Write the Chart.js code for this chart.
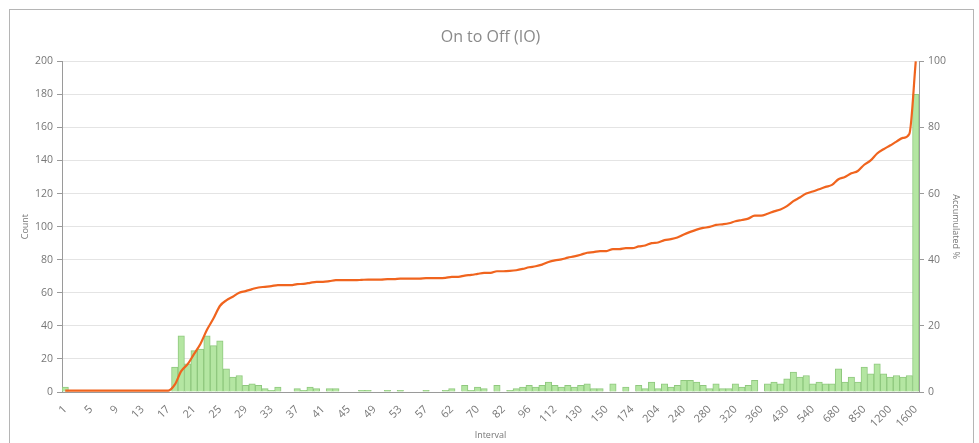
<!DOCTYPE html>
<html>
<head>
<meta charset="utf-8">
<script src="https://cdn.jsdelivr.net/npm/chart.js@4"></script>
<style>
  html, body { margin: 0; padding: 0; background: #fff; }
  #frame { position: absolute; left: 9px; top: 9px; width: 963px; height: 450px; border: 1px solid #b5b5b5; }
  #wrap { position: absolute; left: 0; top: 0; width: 979px; height: 443px; }
</style>
</head>
<body>
<div id="frame"></div>
<div id="wrap"><canvas id="chart"></canvas></div>
<script>
// Interval categories (only every 4th label is printed on the axis)
const intervals = [
    1, 2, 3, 4, 5, 6, 7, 8, 9, 10, 11, 12, 13, 14, 15, 16, 17, 18, 19, 20,
    21, 22, 23, 24, 25, 26, 27, 28, 29, 30, 31, 32, 33, 34, 35, 36, 37, 38, 39, 40,
    41, 42, 43, 44, 45, 46, 47, 48, 49, 50, 51, 52, 53, 54, 55, 56, 57, 58, 59, 60,
    62, 64, 66, 68, 70, 73, 76, 79, 82, 85, 89, 92, 96, 100, 104, 108, 112, 116, 121, 125,
    130, 135, 140, 145, 150, 156, 162, 168, 174, 181, 189, 196, 204, 213, 222, 231, 240, 250, 260, 270,
    280, 290, 300, 310, 320, 330, 340, 350, 360, 375, 390, 410, 430, 455, 480, 510, 540, 570, 600, 640,
    680, 720, 760, 800, 850, 920, 1000, 1100, 1200, 1300, 1400, 1500, 1600
];

const shownTicks = [1, 5, 9, 13, 17, 21, 25, 29, 33, 37, 41, 45, 49, 53, 57, 62, 70, 82, 96,
    112, 130, 150, 174, 204, 240, 280, 320, 360, 430, 540, 680, 850, 1200, 1600];

const counts = [
    3, 0, 0, 0, 0, 0, 0, 0, 0, 0, 0, 0, 0, 0, 0, 0, 0, 15, 34, 17,
    25, 26, 34, 28, 31, 14, 9, 10, 4, 5, 4, 2, 1, 3, 0, 0, 2, 1, 3, 2,
    0, 2, 2, 0, 0, 0, 1, 1, 0, 0, 1, 0, 1, 0, 0, 0, 1, 0, 0, 1,
    2, 0, 4, 1, 3, 2, 0, 4, 0, 1, 2, 3, 4, 3, 4, 6, 4, 3, 4, 3,
    4, 5, 2, 2, 0, 5, 0, 3, 0, 4, 2, 6, 2, 5, 3, 4, 7, 7, 6, 4,
    2, 5, 2, 2, 5, 3, 4, 7, 0, 5, 6, 5, 8, 12, 9, 10, 5, 6, 5, 5,
    14, 6, 9, 6, 15, 11, 17, 11, 9, 10, 9, 10, 180
];

const accumulated = [
    0.4, 0.4, 0.4, 0.4, 0.4, 0.4, 0.4, 0.4, 0.4, 0.4, 0.4, 0.4, 0.4, 0.4, 0.4, 0.4, 0.4, 2.2, 6.3, 8.4,
    11.5, 14.6, 18.8, 22.2, 26.0, 27.7, 28.8, 30.0, 30.5, 31.1, 31.6, 31.8, 32.0, 32.3, 32.3, 32.3, 32.6, 32.7, 33.0, 33.3,
    33.3, 33.5, 33.8, 33.8, 33.8, 33.8, 33.9, 34.0, 34.0, 34.0, 34.1, 34.1, 34.3, 34.3, 34.3, 34.3, 34.4, 34.4, 34.4, 34.5,
    34.8, 34.8, 35.2, 35.4, 35.7, 36.0, 36.0, 36.5, 36.5, 36.6, 36.8, 37.2, 37.7, 38.0, 38.5, 39.3, 39.8, 40.1, 40.6, 41.0,
    41.5, 42.1, 42.3, 42.6, 42.6, 43.2, 43.2, 43.5, 43.5, 44.0, 44.3, 45.0, 45.2, 45.9, 46.2, 46.7, 47.6, 48.4, 49.1, 49.6,
    49.9, 50.5, 50.7, 51.0, 51.6, 52.0, 52.4, 53.3, 53.3, 53.9, 54.6, 55.2, 56.2, 57.7, 58.8, 60.0, 60.6, 61.3, 62.0, 62.6,
    64.3, 65.0, 66.1, 66.8, 68.7, 70.0, 72.1, 73.4, 74.5, 75.7, 76.8, 78.0, 100
];

const fontFamily = "'Open Sans', 'DejaVu Sans', sans-serif";
const tickColor = '#777';
const axisColor = '#9a9a9a';

function initChart() {
    const ctx = document.getElementById('chart').getContext('2d');

    new Chart(ctx, {
        data: {
            labels: intervals,
            datasets: [{
                type: 'line',
                label: 'Accumulated %',
                data: accumulated,
                yAxisID: 'y1',
                borderColor: '#f0641e',
                borderWidth: 2.2,
                pointRadius: 0,
                cubicInterpolationMode: 'monotone',
                fill: false,
                order: 0
            }, {
                type: 'bar',
                label: 'Count',
                data: counts,
                yAxisID: 'y',
                backgroundColor: '#b4e6a2',
                borderColor: '#8fc87e',
                borderWidth: 1,
                barPercentage: 1,
                categoryPercentage: 1,
                order: 1
            }]
        },
        options: {
            responsive: true,
            maintainAspectRatio: false,
            animation: false,
            layout: {
                padding: { left: 16, right: 14, top: 0, bottom: 0 }
            },
            plugins: {
                legend: { display: false },
                tooltip: { enabled: false },
                title: {
                    display: true,
                    text: 'On to Off (IO)',
                    color: '#8a8a8a',
                    font: { family: fontFamily, size: 16, weight: 'normal' },
                    padding: { top: 28, bottom: 14 }
                }
            },
            scales: {
                x: {
                    grid: { display: false },
                    border: { color: axisColor, width: 1 },
                    ticks: {
                        autoSkip: false,
                        minRotation: 45,
                        maxRotation: 45,
                        color: tickColor,
                        font: { family: fontFamily, size: 11 },
                        callback: function(value, index) {
                            return shownTicks.includes(intervals[index]) ? intervals[index] : '';
                        }
                    },
                    title: {
                        display: true,
                        text: 'Interval',
                        color: '#777',
                        font: { family: fontFamily, size: 9 },
                        padding: { top: 0, bottom: 2 }
                    },
                    afterFit: function(scale) { scale.height = 51; }
                },
                y: {
                    position: 'left',
                    min: 0,
                    max: 200,
                    ticks: {
                        stepSize: 20,
                        color: tickColor,
                        font: { family: fontFamily, size: 10.5 },
                        padding: 4
                    },
                    grid: { color: '#e4e4e4', tickColor: axisColor, tickLength: 5 },
                    border: { color: axisColor, width: 1 },
                    title: {
                        display: true,
                        text: 'Count',
                        color: '#777',
                        font: { family: fontFamily, size: 9 }
                    },
                    afterFit: function(scale) { scale.width = 46; }
                },
                y1: {
                    position: 'right',
                    min: 0,
                    max: 100,
                    ticks: {
                        stepSize: 20,
                        color: tickColor,
                        font: { family: fontFamily, size: 10.5 },
                        padding: 4
                    },
                    grid: { drawOnChartArea: false, tickColor: axisColor, tickLength: 5 },
                    border: { color: axisColor, width: 1 },
                    title: {
                        display: true,
                        text: 'Accumulated %',
                        color: '#777',
                        font: { family: fontFamily, size: 9 }
                    },
                    afterFit: function(scale) { scale.width = 46; }
                }
            }
        }
    });
}

document.addEventListener('DOMContentLoaded', initChart);
</script>
</body>
</html>
